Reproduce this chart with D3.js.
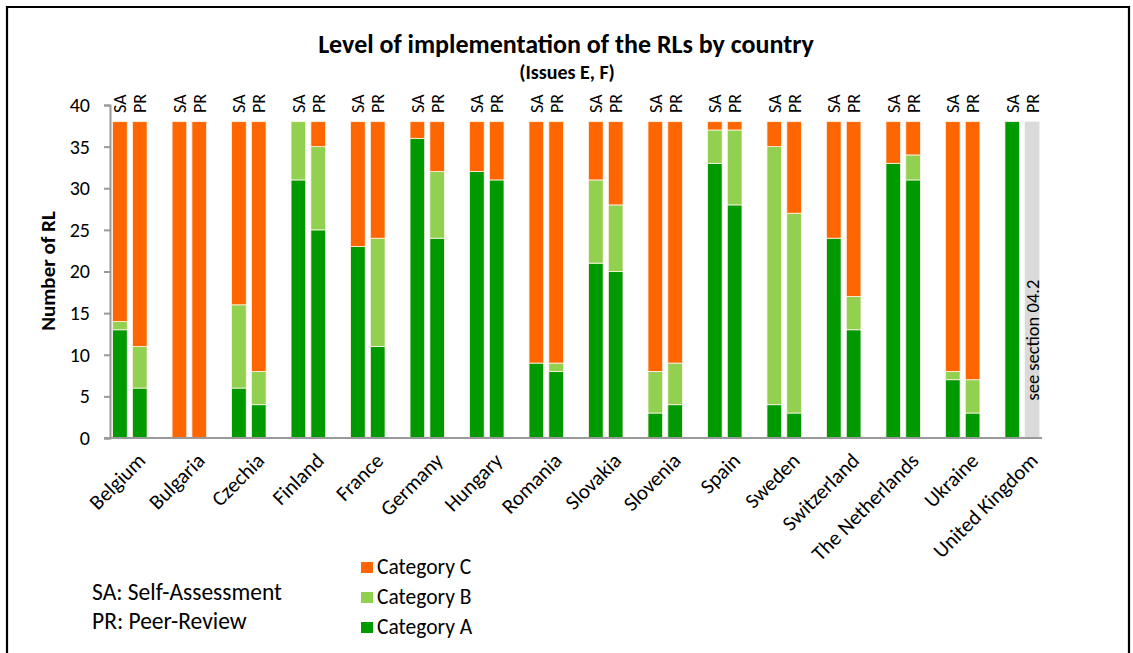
<!DOCTYPE html>
<html><head><meta charset="utf-8">
<script src="https://cdn.jsdelivr.net/npm/d3@7"></script>
<style>
body{margin:0;background:#fff}
svg{display:block}
text{font-family:Carlito, Calibri, Lato, sans-serif;fill:#000}
</style>
</head><body><svg id="c" width="1133" height="653"></svg>
<script>
const countries = ["Belgium","Bulgaria","Czechia","Finland","France","Germany","Hungary","Romania","Slovakia","Slovenia","Spain","Sweden","Switzerland","The Netherlands","Ukraine","United Kingdom"];
// Self-Assessment
const saA = [13,0,6,31,23,36,32,9,21,3,33,4,24,33,7,38];
const saB = [1,0,10,7,0,0,0,0,10,5,4,31,0,0,1,0];
const saC = [24,38,22,0,15,2,6,29,7,30,1,3,14,5,30,0];
// Peer-Review (United Kingdom: not available, see section 04.2)
const prA = [6,0,4,25,11,24,31,8,20,4,28,3,13,31,3,null];
const prB = [5,0,4,10,13,8,0,1,8,5,9,24,4,3,4,null];
const prC = [27,38,30,3,14,6,7,29,10,29,1,11,21,4,31,null];
const placeholderTotal = 38;
const yTicks = [0,5,10,15,20,25,30,35,40];
const assessments = ["SA","PR"];
const categories = ["Category C","Category B","Category A"];
const colors = {"Category A":"#009900","Category B":"#92d050","Category C":"#ff6600"};

const svg = d3.select("#c");
// outer frame
svg.append("path").attr("d","M7,660 V7 H1129 V660").attr("fill","none").attr("stroke","#000").attr("stroke-width",2.2);

const plotLeft = 110, slotW = 19.83;
const x0 = d3.scaleBand().domain(countries).range([plotLeft, plotLeft + countries.length*3*slotW]).padding(0);
const x1 = d3.scaleBand().domain(["SA","PR","gap"]).range([0, x0.bandwidth()]).paddingInner(0.26).paddingOuter(0.13);
const y = d3.scaleLinear().domain([0,40]).range([438,105]);

// build stacked rows
const rows = [];
countries.forEach((c,i)=>{
  rows.push({country:c, type:"SA", A:saA[i], B:saB[i], C:saC[i]});
  rows.push({country:c, type:"PR", A:prA[i], B:prB[i], C:prC[i]});
});
const stack = d3.stack().keys(["A","B","C"]);
const series = stack(rows.filter(r=>r.A!==null));
const keyName = {A:"Category A",B:"Category B",C:"Category C"};

// placeholder bar
rows.filter(r=>r.A===null).forEach(r=>{
  svg.append("rect").attr("x", x0(r.country)+x1(r.type)).attr("width", x1.bandwidth())
    .attr("y", y(placeholderTotal)).attr("height", y(0)-y(placeholderTotal)).attr("fill","#dadada");
  const cx = x0(r.country)+x1(r.type)+x1.bandwidth()/2;
  svg.append("text").attr("transform",`translate(${cx+6.8},${y(4.5)}) rotate(-90)`)
    .attr("font-size",18.5).attr("fill","#222").text("see section 04.2");
});

series.forEach(s=>{
  svg.append("g").attr("fill", colors[keyName[s.key]]).selectAll("rect").data(s).join("rect")
    .attr("x", d=>x0(d.data.country)+x1(d.data.type))
    .attr("width", x1.bandwidth())
    .attr("y", d=>y(d[1]))
    .attr("height", d=>y(d[0])-y(d[1]))
    .attr("stroke", d=> (d[1]-d[0])>0 ? "#fff3ea" : "none").attr("stroke-width",0.8);
});

// SA / PR labels
rows.forEach(r=>{
  const cx = x0(r.country)+x1(r.type)+x1.bandwidth()/2;
  svg.append("text").attr("transform",`translate(${cx+6.5},113) rotate(-90)`)
    .attr("font-size",18).text(r.type);
});

// y axis
const yAxis = d3.axisLeft(y).tickValues(yTicks).tickSize(6).tickPadding(14);
const gy = svg.append("g").attr("transform",`translate(${plotLeft},0)`).call(yAxis);
gy.select(".domain").attr("stroke","#999").attr("stroke-width",2);
gy.selectAll(".tick line").attr("stroke","#999").attr("stroke-width",2);
gy.selectAll(".tick text").attr("font-size",20).attr("font-family","Carlito, Calibri, Lato, sans-serif").attr("fill","#000");

// x axis line
const xEnd = x0(countries[countries.length-1]) + 2*x1.step();
svg.append("line").attr("x1",plotLeft-6).attr("x2",xEnd).attr("y1",y(0)).attr("y2",y(0)).attr("stroke","#999").attr("stroke-width",2);

// country labels
countries.forEach(c=>{
  const cx = x0(c)+x0.bandwidth()/2;
  svg.append("text").attr("transform",`translate(${cx+7},${462}) rotate(-45)`)
    .attr("text-anchor","end").attr("font-size",21).text(c);
});

// y title
svg.append("text").attr("transform","translate(55,271) rotate(-90)").attr("text-anchor","middle")
  .attr("font-size",21).attr("font-weight","bold").text("Number of RL");

// title
svg.append("text").attr("x",566).attr("y",53).attr("text-anchor","middle").attr("font-size",26).attr("font-weight","bold")
  .text("Level of implementation of the RLs by country");
svg.append("text").attr("x",567).attr("y",79).attr("text-anchor","middle").attr("font-size",20).attr("font-weight","bold")
  .text("(Issues E, F)");

// legend
categories.forEach((c,i)=>{
  const ly = 562 + i*30;
  svg.append("rect").attr("x",361).attr("y",ly).attr("width",12).attr("height",11).attr("fill",colors[c]);
  svg.append("text").attr("x",377).attr("y",ly+12).attr("font-size",21.5).attr("fill","#111").text(c);
});
svg.append("text").attr("x",92).attr("y",600).attr("font-size",23.5).attr("fill","#111").text("SA: Self-Assessment");
svg.append("text").attr("x",92).attr("y",629).attr("font-size",23.5).attr("fill","#111").text("PR: Peer-Review");
</script>
</body></html>
